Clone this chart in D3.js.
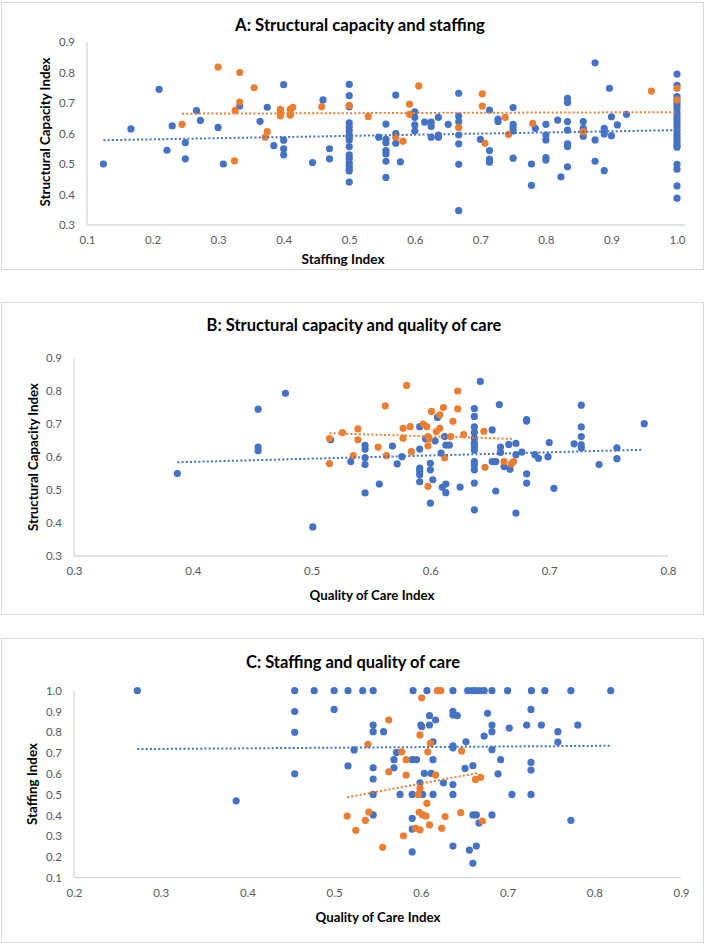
<!DOCTYPE html>
<html><head><meta charset="utf-8">
<script src="https://cdn.jsdelivr.net/npm/d3@7"></script>
<style>body{margin:0;background:#fff}svg{display:block}</style>
</head><body>
<svg id="chart" width="708" height="944"></svg>
<script>
// ---------------- DATA ----------------
const panelTitles = ["A: Structural capacity and staffing","B: Structural capacity and quality of care","C: Staffing and quality of care"];
const xTitles = ["Staffing Index","Quality of Care Index","Quality of Care Index"];
const yTitles = ["Structural Capacity Index","Structural Capacity Index","Staffing Index"];
const xTicksA = [0.1,0.2,0.3,0.4,0.5,0.6,0.7,0.8,0.9,1.0];
const yTicksA = [0.3,0.4,0.5,0.6,0.7,0.8,0.9];
const xTicksB = [0.3,0.4,0.5,0.6,0.7,0.8];
const yTicksB = [0.3,0.4,0.5,0.6,0.7,0.8,0.9];
const xTicksC = [0.2,0.3,0.4,0.5,0.6,0.7,0.8,0.9];
const yTicksC = [0.1,0.2,0.3,0.4,0.5,0.6,0.7,0.8,0.9,1.0];

const aBlue = [[0.125,0.50],[0.167,0.615],[0.21,0.745],[0.222,0.545],[0.23,0.625],[0.25,0.57],[0.25,0.517],[0.267,0.675],[0.273,0.643],[0.3,0.62],[0.308,0.50],[0.333,0.69],[0.364,0.64],[0.375,0.686],[0.385,0.56],[0.4,0.76],[0.4,0.578],[0.4,0.55],[0.4,0.53],[0.444,0.505],[0.46,0.71],[0.47,0.55],[0.47,0.517],
[0.5,0.761],[0.5,0.724],[0.5,0.688],[0.5,0.635],[0.5,0.622],[0.5,0.609],[0.5,0.595],[0.5,0.588],[0.5,0.579],[0.5,0.557],[0.5,0.530],[0.5,0.519],[0.5,0.504],[0.5,0.494],[0.5,0.484],[0.5,0.477],[0.5,0.441],
[0.545,0.588],[0.556,0.631],[0.556,0.581],[0.556,0.570],[0.556,0.544],[0.556,0.533],[0.556,0.509],[0.556,0.456],
[0.571,0.726],[0.571,0.60],[0.571,0.568],[0.578,0.507],[0.6,0.671],[0.6,0.653],[0.6,0.628],[0.6,0.608],
[0.615,0.637],[0.625,0.637],[0.625,0.623],[0.625,0.588],[0.636,0.653],[0.636,0.595],[0.636,0.588],[0.651,0.63],
[0.667,0.732],[0.667,0.657],[0.667,0.639],[0.667,0.595],[0.667,0.566],[0.667,0.499],[0.667,0.347],
[0.7,0.581],[0.714,0.677],[0.714,0.544],[0.714,0.516],[0.714,0.506],[0.727,0.647],[0.727,0.639],[0.75,0.685],[0.75,0.63],[0.75,0.619],[0.75,0.608],[0.75,0.519],[0.778,0.50],[0.778,0.43],[0.784,0.617],[0.8,0.63],[0.8,0.595],[0.8,0.579],[0.8,0.521],[0.8,0.513],[0.818,0.644],[0.823,0.458],
[0.833,0.715],[0.833,0.702],[0.833,0.639],[0.833,0.611],[0.833,0.566],[0.833,0.557],[0.833,0.491],
[0.857,0.639],[0.857,0.617],[0.857,0.608],[0.857,0.591],
[0.875,0.832],[0.875,0.579],[0.875,0.509],[0.889,0.617],[0.889,0.608],[0.889,0.598],[0.889,0.478],[0.897,0.748],[0.9,0.655],[0.9,0.593],[0.909,0.628],[0.923,0.663],
[1.0,0.795],[1.0,0.758],[1.0,0.721],[1.0,0.71],[1.0,0.70],[1.0,0.69],[1.0,0.68],[1.0,0.667],[1.0,0.655],[1.0,0.645],[1.0,0.635],[1.0,0.625],[1.0,0.612],[1.0,0.60],[1.0,0.59],[1.0,0.58],[1.0,0.57],[1.0,0.56],[1.0,0.555],[1.0,0.499],[1.0,0.483],[1.0,0.428],[1.0,0.388]];
const aOrange = [[0.245,0.63],[0.3,0.818],[0.325,0.51],[0.326,0.676],[0.333,0.80],[0.333,0.703],[0.355,0.75],[0.375,0.606],[0.372,0.588],[0.395,0.679],[0.395,0.668],[0.395,0.658],[0.41,0.666],[0.41,0.679],[0.414,0.686],[0.41,0.66],[0.458,0.688],[0.5,0.692],[0.529,0.656],[0.571,0.588],[0.582,0.575],[0.592,0.696],[0.592,0.663],[0.606,0.756],[0.667,0.62],[0.703,0.73],[0.703,0.69],[0.707,0.568],[0.738,0.653],[0.743,0.597],[0.78,0.633],[0.857,0.606],[0.961,0.739],[1.0,0.748],[1.0,0.71]];
const aBlueTrend = [[0.125,0.578],[1.0,0.611]];
const aOrangeTrend = [[0.245,0.665],[1.0,0.670]];

const bBlue = [[0.387,0.55],[0.455,0.745],[0.455,0.63],[0.455,0.619],[0.478,0.793],[0.501,0.388],[0.516,0.652],[0.533,0.586],
[0.545,0.635],[0.545,0.624],[0.545,0.598],[0.545,0.577],[0.545,0.491],[0.557,0.518],[0.568,0.633],[0.572,0.579],[0.576,0.601],[0.591,0.692],[0.591,0.624],[0.591,0.566],[0.591,0.556],[0.591,0.546],[0.591,0.525],[0.596,0.655],[0.6,0.581],[0.6,0.561],[0.6,0.46],[0.602,0.531],[0.604,0.649],[0.606,0.72],[0.609,0.612],[0.61,0.508],[0.613,0.518],[0.613,0.492],[0.613,0.636],[0.616,0.636],[0.612,0.662],[0.625,0.509],
[0.637,0.747],[0.637,0.723],[0.637,0.691],[0.637,0.674],[0.637,0.657],[0.637,0.642],[0.637,0.632],[0.637,0.621],[0.637,0.586],[0.637,0.576],[0.637,0.561],[0.637,0.521],[0.637,0.44],
[0.642,0.829],[0.652,0.682],[0.652,0.586],[0.655,0.586],[0.655,0.497],[0.658,0.759],[0.659,0.63],[0.659,0.614],[0.662,0.571],[0.666,0.638],[0.667,0.563],[0.672,0.641],[0.672,0.607],[0.672,0.43],[0.677,0.615],[0.681,0.713],[0.681,0.709],[0.681,0.549],[0.681,0.521],[0.688,0.607],[0.691,0.596],[0.699,0.601],[0.7,0.644],[0.704,0.505],[0.721,0.64],[0.727,0.757],[0.727,0.691],[0.727,0.662],[0.727,0.637],[0.727,0.627],[0.742,0.577],[0.757,0.628],[0.757,0.595],[0.78,0.701]];
const bOrange = [[0.515,0.656],[0.515,0.58],[0.526,0.674],[0.535,0.604],[0.539,0.685],[0.539,0.652],[0.556,0.63],[0.562,0.755],[0.563,0.604],[0.577,0.687],[0.577,0.657],[0.58,0.817],[0.583,0.692],[0.584,0.616],[0.594,0.70],[0.597,0.692],[0.598,0.662],[0.598,0.634],[0.598,0.511],[0.601,0.738],[0.599,0.655],[0.605,0.677],[0.608,0.687],[0.608,0.728],[0.611,0.75],[0.612,0.598],[0.617,0.662],[0.619,0.708],[0.623,0.80],[0.623,0.746],[0.628,0.668],[0.645,0.678],[0.646,0.569],[0.662,0.586],[0.668,0.579],[0.67,0.586]];
const bBlueTrend = [[0.387,0.584],[0.779,0.622]];
const bOrangeTrend = [[0.515,0.672],[0.669,0.655]];

const cBlue = [[0.273,1.0],[0.387,0.47],[0.4545,1.0],[0.4545,0.9],[0.4545,0.8],[0.4545,0.6],[0.477,1.0],[0.5,1.0],[0.5,0.91],[0.516,1.0],[0.516,0.638],[0.523,0.715],
[0.533,1.0],[0.545,1.0],[0.591,1.0],[0.607,1.0],[0.637,1.0],[0.654,1.0],[0.659,1.0],[0.663,1.0],[0.668,1.0],[0.673,1.0],[0.682,1.0],[0.70,1.0],[0.7275,1.0],[0.743,1.0],[0.773,1.0],[0.819,1.0],
[0.545,0.835],[0.545,0.803],[0.545,0.629],[0.545,0.575],[0.545,0.501],[0.545,0.402],[0.557,0.803],[0.569,0.668],[0.569,0.629],[0.572,0.703],[0.576,0.501],[0.59,0.668],[0.595,0.668],[0.59,0.501],[0.59,0.386],[0.59,0.334],[0.59,0.224],[0.599,0.557],[0.6,0.835],[0.601,0.827],[0.602,0.501],[0.604,0.602],[0.61,0.835],[0.61,0.88],[0.614,0.754],[0.614,0.668],[0.612,0.602],[0.614,0.501],[0.617,0.859],[0.626,0.557],[0.637,0.901],[0.637,0.883],[0.642,0.88],[0.637,0.735],[0.637,0.725],[0.637,0.548],[0.637,0.501],[0.637,0.252],[0.652,0.754],[0.651,0.626],[0.66,0.639],[0.656,0.233],[0.664,0.252],[0.66,0.169],[0.66,0.402],[0.664,0.402],[0.667,0.363],[0.673,0.782],[0.677,0.891],[0.682,0.835],[0.682,0.803],[0.682,0.716],[0.682,0.402],[0.689,0.60],[0.692,0.668],[0.702,0.82],[0.705,0.501],[0.722,0.835],[0.727,0.91],[0.727,0.655],[0.727,0.618],[0.727,0.501],[0.739,0.835],[0.758,0.803],[0.758,0.753],[0.773,0.376],[0.781,0.835]];
const cOrange = [[0.515,0.397],[0.525,0.328],[0.536,0.376],[0.539,0.742],[0.54,0.416],[0.556,0.246],[0.563,0.859],[0.563,0.61],[0.578,0.706],[0.58,0.302],[0.583,0.668],[0.583,0.594],[0.594,0.338],[0.599,0.33],[0.597,0.501],[0.599,0.53],[0.599,0.787],[0.601,0.966],[0.598,0.415],[0.602,0.402],[0.606,0.397],[0.607,0.458],[0.608,0.706],[0.611,0.747],[0.61,0.354],[0.617,0.594],[0.619,1.0],[0.623,1.0],[0.624,0.338],[0.628,0.394],[0.646,0.413],[0.647,0.71],[0.663,0.573],[0.669,0.583],[0.671,0.373]];
const cBlueTrend = [[0.273,0.719],[0.819,0.735]];
const cOrangeTrend = [[0.515,0.487],[0.667,0.605]];

// ---------------- LAYOUT ----------------
const BLUE = "#4472C4", ORANGE = "#ED7D31";
const FONT = "Lato, 'Open Sans', sans-serif";
const panels = [
  {box:[1,2,702,267], titleX:360, titleY:25, titleW:250,
   xd:[0.1,1.0], xr:[87,677], axisEnd:685, yd:[0.3,0.9], yr:[225,42],
   xt:xTicksA, yt:yTicksA,
   xTitleX:343, xTitleY:259, xTitleW:83, yTitleX:45, yTitleY:132, yTitleW:149,
   blue:aBlue, orange:aOrange, bt:aBlueTrend, ot:aOrangeTrend},
  {box:[1,302,702,312], titleX:354, titleY:325, titleW:295,
   xd:[0.3,0.8], xr:[74,668], axisEnd:668, yd:[0.3,0.9], yr:[556,358],
   xt:xTicksB, yt:yTicksB,
   xTitleX:372, xTitleY:595, xTitleW:125, yTitleX:33, yTitleY:457, yTitleW:148,
   blue:bBlue, orange:bOrange, bt:bBlueTrend, ot:bOrangeTrend},
  {box:[1,638,702,304], titleX:353, titleY:662, titleW:214,
   xd:[0.2,0.9], xr:[74,681], axisEnd:681, yd:[0.1,1.0], yr:[877.7,690.7],
   xt:xTicksC, yt:yTicksC,
   xTitleX:378, xTitleY:917, xTitleW:125, yTitleX:32, yTitleY:784, yTitleW:82,
   blue:cBlue, orange:cOrange, bt:cBlueTrend, ot:cOrangeTrend}
];

// scale a text's font size so it spans the given width
function fit(sel, w){
  const fs = parseFloat(sel.attr("font-size"));
  const len = sel.node().getComputedTextLength();
  if (len > 0) sel.attr("font-size", (fs * w / len).toFixed(2));
  return sel;
}

const svg = d3.select("#chart");
svg.append("rect").attr("width",708).attr("height",944).attr("fill","#fff");

panels.forEach((p,i)=>{
  const g = svg.append("g");
  g.append("rect").attr("x",p.box[0]+0.5).attr("y",p.box[1]+0.5)
    .attr("width",p.box[2]).attr("height",p.box[3])
    .attr("fill","#fff").attr("stroke","#d9d9d9").attr("stroke-width",1);
  fit(g.append("text").attr("x",p.titleX).attr("y",p.titleY).attr("dy","0.35em")
    .attr("text-anchor","middle").attr("font-family",FONT).attr("font-weight","bold")
    .attr("font-size",15).attr("fill","#000").text(panelTitles[i]), p.titleW);

  const x = d3.scaleLinear().domain(p.xd).range(p.xr);
  const y = d3.scaleLinear().domain(p.yd).range(p.yr);

  // axes
  const xAxis = d3.axisBottom(x).tickValues(p.xt).tickFormat(d3.format(".1f")).tickSize(0).tickPadding(11);
  const yAxis = d3.axisLeft(y).tickValues(p.yt).tickFormat(d3.format(".1f")).tickSize(0).tickPadding(12);
  const gx = g.append("g").attr("transform",`translate(0,${p.yr[0]})`).call(xAxis);
  gx.select(".domain").remove();
  gx.selectAll("text").attr("font-family",FONT).attr("font-size",11.5).attr("fill","#595959");
  const gy = g.append("g").attr("transform",`translate(${p.xr[0]},0)`).call(yAxis);
  gy.select(".domain").remove();
  gy.selectAll("text").attr("font-family",FONT).attr("font-size",11.5).attr("fill","#595959");

  g.append("line").attr("x1",p.xr[0]).attr("x2",p.axisEnd).attr("y1",p.yr[0]).attr("y2",p.yr[0])
    .attr("stroke","#d9d9d9").attr("stroke-width",1.3);
  g.append("line").attr("x1",p.xr[0]).attr("x2",p.xr[0]).attr("y1",p.yr[0]).attr("y2",p.yr[1])
    .attr("stroke","#d9d9d9").attr("stroke-width",1.3);

  // axis titles
  fit(g.append("text").attr("x",p.xTitleX).attr("y",p.xTitleY).attr("dy","0.35em")
    .attr("text-anchor","middle").attr("font-family",FONT).attr("font-weight","bold")
    .attr("font-size",12).attr("fill","#000").text(xTitles[i]), p.xTitleW);
  fit(g.append("text").attr("transform",`translate(${p.yTitleX},${p.yTitleY}) rotate(-90)`).attr("dy","0.35em")
    .attr("text-anchor","middle").attr("font-family",FONT).attr("font-weight","bold")
    .attr("font-size",12).attr("fill","#000").text(yTitles[i]), p.yTitleW);

  // points
  g.append("g").selectAll("circle").data(p.blue).join("circle")
    .attr("cx",d=>x(d[0])).attr("cy",d=>y(d[1])).attr("r",3.6).attr("fill",BLUE);
  g.append("g").selectAll("circle").data(p.orange).join("circle")
    .attr("cx",d=>x(d[0])).attr("cy",d=>y(d[1])).attr("r",3.6).attr("fill",ORANGE);

  // trend lines
  const line = d3.line().x(d=>x(d[0])).y(d=>y(d[1]));
  [[p.bt,BLUE],[p.ot,ORANGE]].forEach(([t,c])=>{
    g.append("path").attr("d",line(t)).attr("fill","none").attr("stroke",c)
      .attr("stroke-width",2).attr("stroke-dasharray","2,2.2");
  });
});
</script>
</body></html>
